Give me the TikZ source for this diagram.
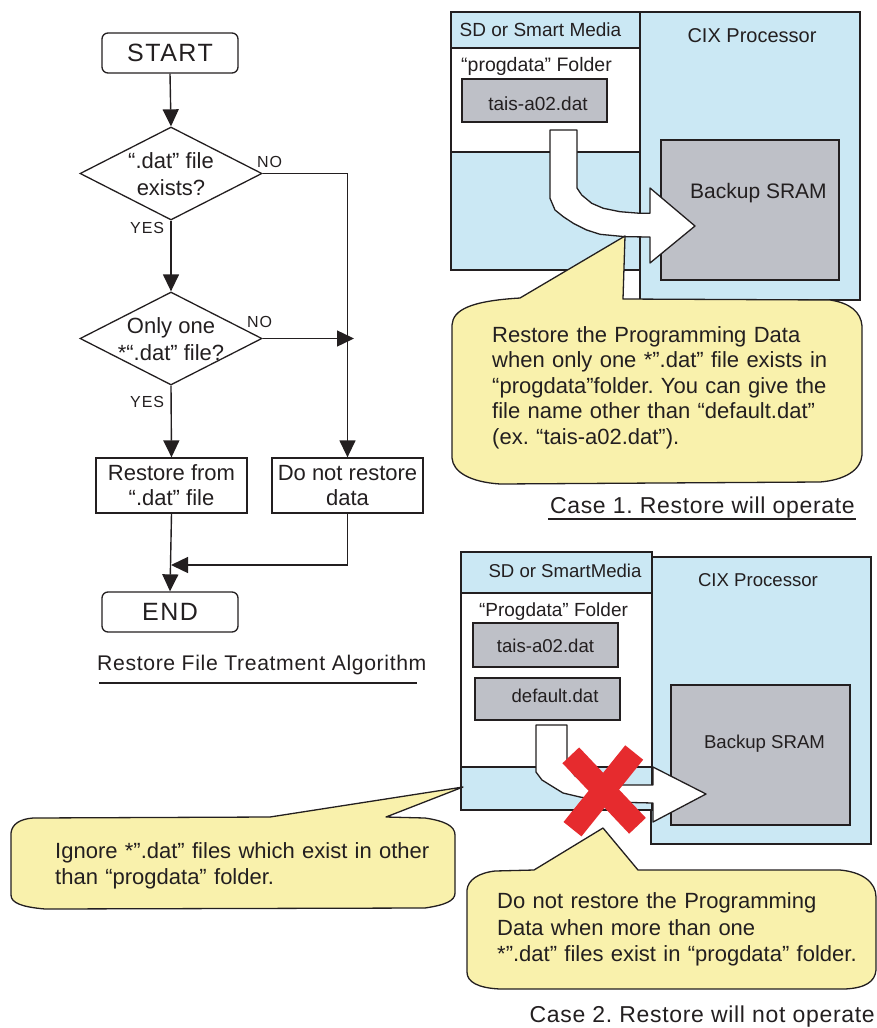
\documentclass[tikz,border=0pt]{standalone}
\usepackage{fontspec}
\setmainfont{Liberation Sans}
\newfontfamily\trackfont[LetterSpace=6]{Liberation Sans}
\newfontfamily\capfont[LetterSpace=3]{Liberation Sans}
\usetikzlibrary{arrows.meta,shapes.geometric}
\definecolor{ink}{HTML}{231F20}
\definecolor{cblue}{HTML}{CBE8F4}
\definecolor{cgray}{HTML}{BEC0C7}
\definecolor{cyell}{HTML}{F9F1AC}
\definecolor{cred}{HTML}{E62B2E}
\newcommand{\setfs}[2]{\fontsize{#1pt}{#2pt}\selectfont}
\frenchspacing
\begin{document}
\begin{tikzpicture}[x=1pt,y=-1pt,
  every node/.style={text=ink, inner sep=0pt},
  term/.style={draw=ink, line width=1.3pt, rounded corners=6pt, minimum width=136pt, minimum height=40pt, font=\trackfont\setfs{25}{30}},
  proc/.style={draw=ink, line width=1.3pt, minimum width=151pt, minimum height=55pt, align=center, font=\setfs{22}{25}},
  dia/.style={draw=ink, line width=1.3pt, diamond, minimum width=182pt, minimum height=93pt},
  diatext/.style={align=center, anchor=north, font=\setfs{22}{27}},
  flow/.style={draw=ink, line width=1.4pt, -{Triangle[length=17pt,width=16pt]}},
  yn/.style={font=\trackfont\setfs{16}{16}, anchor=base west},
  panel/.style={draw=ink, line width=1.3pt, fill=cblue},
  whitebox/.style={draw=ink, line width=1.3pt, fill=white},
  filebox/.style={draw=ink, line width=1.3pt, fill=cgray},
  bigarrow/.style={draw=ink, line width=1.3pt, fill=white, line join=round},
  callout/.style={draw=ink, line width=1.3pt, fill=cyell, line join=round},
  calltext/.style={align=left, anchor=north west, font=\setfs{22}{26}},
  lbl/.style={anchor=base},
  cross/.style={draw=cred, line width=23pt},
  caption/.style={anchor=base east, font=\capfont\setfs{23}{23}}
]
\useasboundingbox (0,0) rectangle (877,1028);

% ---------------- Flowchart ----------------
\node[term] (start) at (170,53) {START};
\node[dia] (d1) at (171,173.5) {};
\node[diatext] at (171,152) {“.dat” file\\exists?};
\node[dia] (d2) at (171,338.5) {};
\node[diatext] at (171,317) {Only one\\{}*“.dat” file?};
\node[proc] (rest) at (171.5,485.5) {Restore from\\“.dat” file};
\node[proc] (norest) at (347.5,485.5) {Do not restore\\data};
\node[term] (endn) at (170,612) {END};
\coordinate (j1) at (354,338.5);
\coordinate (j2) at (171,565);

\draw[flow] (start.south) -- (d1.north);
\draw[flow] (d1.south) -- (d2.north);
\draw[flow] (d2.south) -- (rest.north);
\draw[flow] (d1.east) -| (norest.north);
\draw[flow] (d2.east) -- (j1);
\draw[flow] (rest.south) -- (endn.north);
\draw[flow] (norest.south) |- (j2);

\node[yn] (no1) at (257,167) {NO};
\node[yn] (yes1) at (130,233) {YES};
\node[yn] (no2) at (247,327) {NO};
\node[yn] (yes2) at (130,407) {YES};

\node[anchor=base west, font=\capfont\setfs{21.2}{21.2}] (algo) at (97,670) {Restore File Treatment Algorithm};
\draw[ink, line width=1.8pt] (99,683) -- (417,683);

% ---------------- Case 1 ----------------
\node[panel, minimum width=220pt, minimum height=288pt] (cix1) at (750,156) {};
\node[panel, minimum width=189pt, minimum height=258pt] (sd1) at (545.5,141) {};
\node[whitebox, minimum width=189pt, minimum height=104pt] (fold1) at (545.5,100) {};
\node[filebox, minimum width=145pt, minimum height=43pt] (file1) at (534.5,100.5) {};
\node[filebox, minimum width=178pt, minimum height=140pt] (sram1) at (750,210) {};
\node[lbl, font=\setfs{19}{19}] at (540.5,36) {SD or Smart Media};
\node[lbl, font=\setfs{20}{20}] at (752,42) {CIX Processor};
\node[anchor=base west, font=\setfs{19.5}{19.5}] at (461,71) {“progdata” Folder};
\node[lbl, font=\setfs{19}{19}] at (538,110) {tais-a02.dat};
\node[anchor=base west, font=\setfs{21}{21}] at (690,198) {Backup SRAM};

\draw[bigarrow] (550,130) -- (577,130) -- (577,188) -- (581.7,195) -- (591.7,203.3) -- (603.3,208.3) -- (620,211.7) -- (640,213.3) -- (650,213.3) -- (650,188) -- (695,226) -- (650,263) -- (650,237) -- (625,236.7) -- (600,234.3) -- (586.7,230) -- (573.3,223.3) -- (563.3,216.7) -- (555,210) -- (550,198.3) -- cycle;

\draw[callout] (520,298) -- (625,236) -- (623,299) -- (830,300)
  .. controls (850,303) and (861,312) .. (862,326) -- (862,455)
  .. controls (861,470) and (845,480) .. (820,482) -- (500,484)
  .. controls (470,482) and (453,472) .. (452,458) -- (452,325)
  .. controls (453,310) and (470,301) .. (520,298) -- cycle;
\node[calltext, text width=360pt] (c1text) at (492,326) {\setlength{\baselineskip}{25.5pt}Restore the Programming Data\\when only one *”.dat” file exists in\\“progdata”folder. You can give the\\file name other than “default.dat”\\(ex. “tais-a02.dat”).};

\node[caption] (case1) at (855,513) {Case 1. Restore will operate};
\draw[ink, line width=1.5pt] (548,519) -- (856,519);

% ---------------- Case 2 ----------------
\node[panel, minimum width=220pt, minimum height=287pt] (cix2) at (761,700.5) {};
\node[panel, minimum width=191pt, minimum height=258pt] (sd2) at (556.5,681) {};
\node[whitebox, minimum width=191pt, minimum height=174pt] (fold2) at (556.5,680) {};
\node[filebox, minimum width=145pt, minimum height=44pt] (tais2) at (545.5,645) {};
\node[filebox, minimum width=145pt, minimum height=42pt] (def2) at (547.5,699) {};
\node[filebox, minimum width=179pt, minimum height=140pt] (sram2) at (760.5,755) {};
\node[lbl, font=\setfs{18.6}{18.6}] at (565,577) {SD or SmartMedia};
\node[lbl, font=\setfs{18.6}{18.6}] at (758,586) {CIX Processor};
\node[lbl, font=\setfs{19}{19}] at (553.5,616) {“Progdata” Folder};
\node[lbl, font=\setfs{18.6}{18.6}] at (545.5,652) {tais-a02.dat};
\node[lbl, font=\setfs{18.6}{18.6}] at (555,702) {default.dat};
\node[lbl, font=\setfs{18.6}{18.6}] at (764.5,748) {Backup SRAM};

\draw[bigarrow] (536,725) -- (567,725) -- (567,765) -- (575,776) -- (590,783) -- (610,785) -- (653,785) -- (653,767) -- (706,794) -- (653,822) -- (653,803) -- (610,802) -- (580,797) -- (563,793) -- (550,785) -- (542,780) -- (536,772) -- cycle;

\draw[callout] (33,818) -- (270,817) -- (463,787) -- (386,817) -- (425,818)
  .. controls (445,821) and (455,826) .. (455,835) -- (455,893)
  .. controls (455,901) and (445,905) .. (425,908) -- (45,909)
  .. controls (22,907) and (11,903) .. (11,895) -- (11,833)
  .. controls (12,824) and (20,819) .. (33,818) -- cycle;
\node[calltext, text width=400pt] (c2text) at (55,842) {\setlength{\baselineskip}{27pt}Ignore *”.dat” files which exist in other\\than “progdata” folder.};

\draw[callout] (495,871) -- (534,870) -- (603,828) -- (638,870) -- (840,870)
  .. controls (862,872) and (876,882) .. (876,897) -- (876,970)
  .. controls (875,982) and (865,988) .. (845,989) -- (500,989)
  .. controls (478,988) and (467,982) .. (467,972) -- (467,890)
  .. controls (468,880) and (478,873) .. (495,871) -- cycle;
\node[calltext, text width=400pt] (c3text) at (497,892) {\setlength{\baselineskip}{27pt}Do not restore the Programming\\Data when more than one\\{}*”.dat” files exist in “progdata” folder.};

\draw[cross] (570.8,755.3) -- (637.5,825.8);
\draw[cross] (634.2,752.5) -- (572.5,829.2);

\node[caption] (case2) at (875,1022) {Case 2. Restore will not operate};
\end{tikzpicture}
\end{document}
